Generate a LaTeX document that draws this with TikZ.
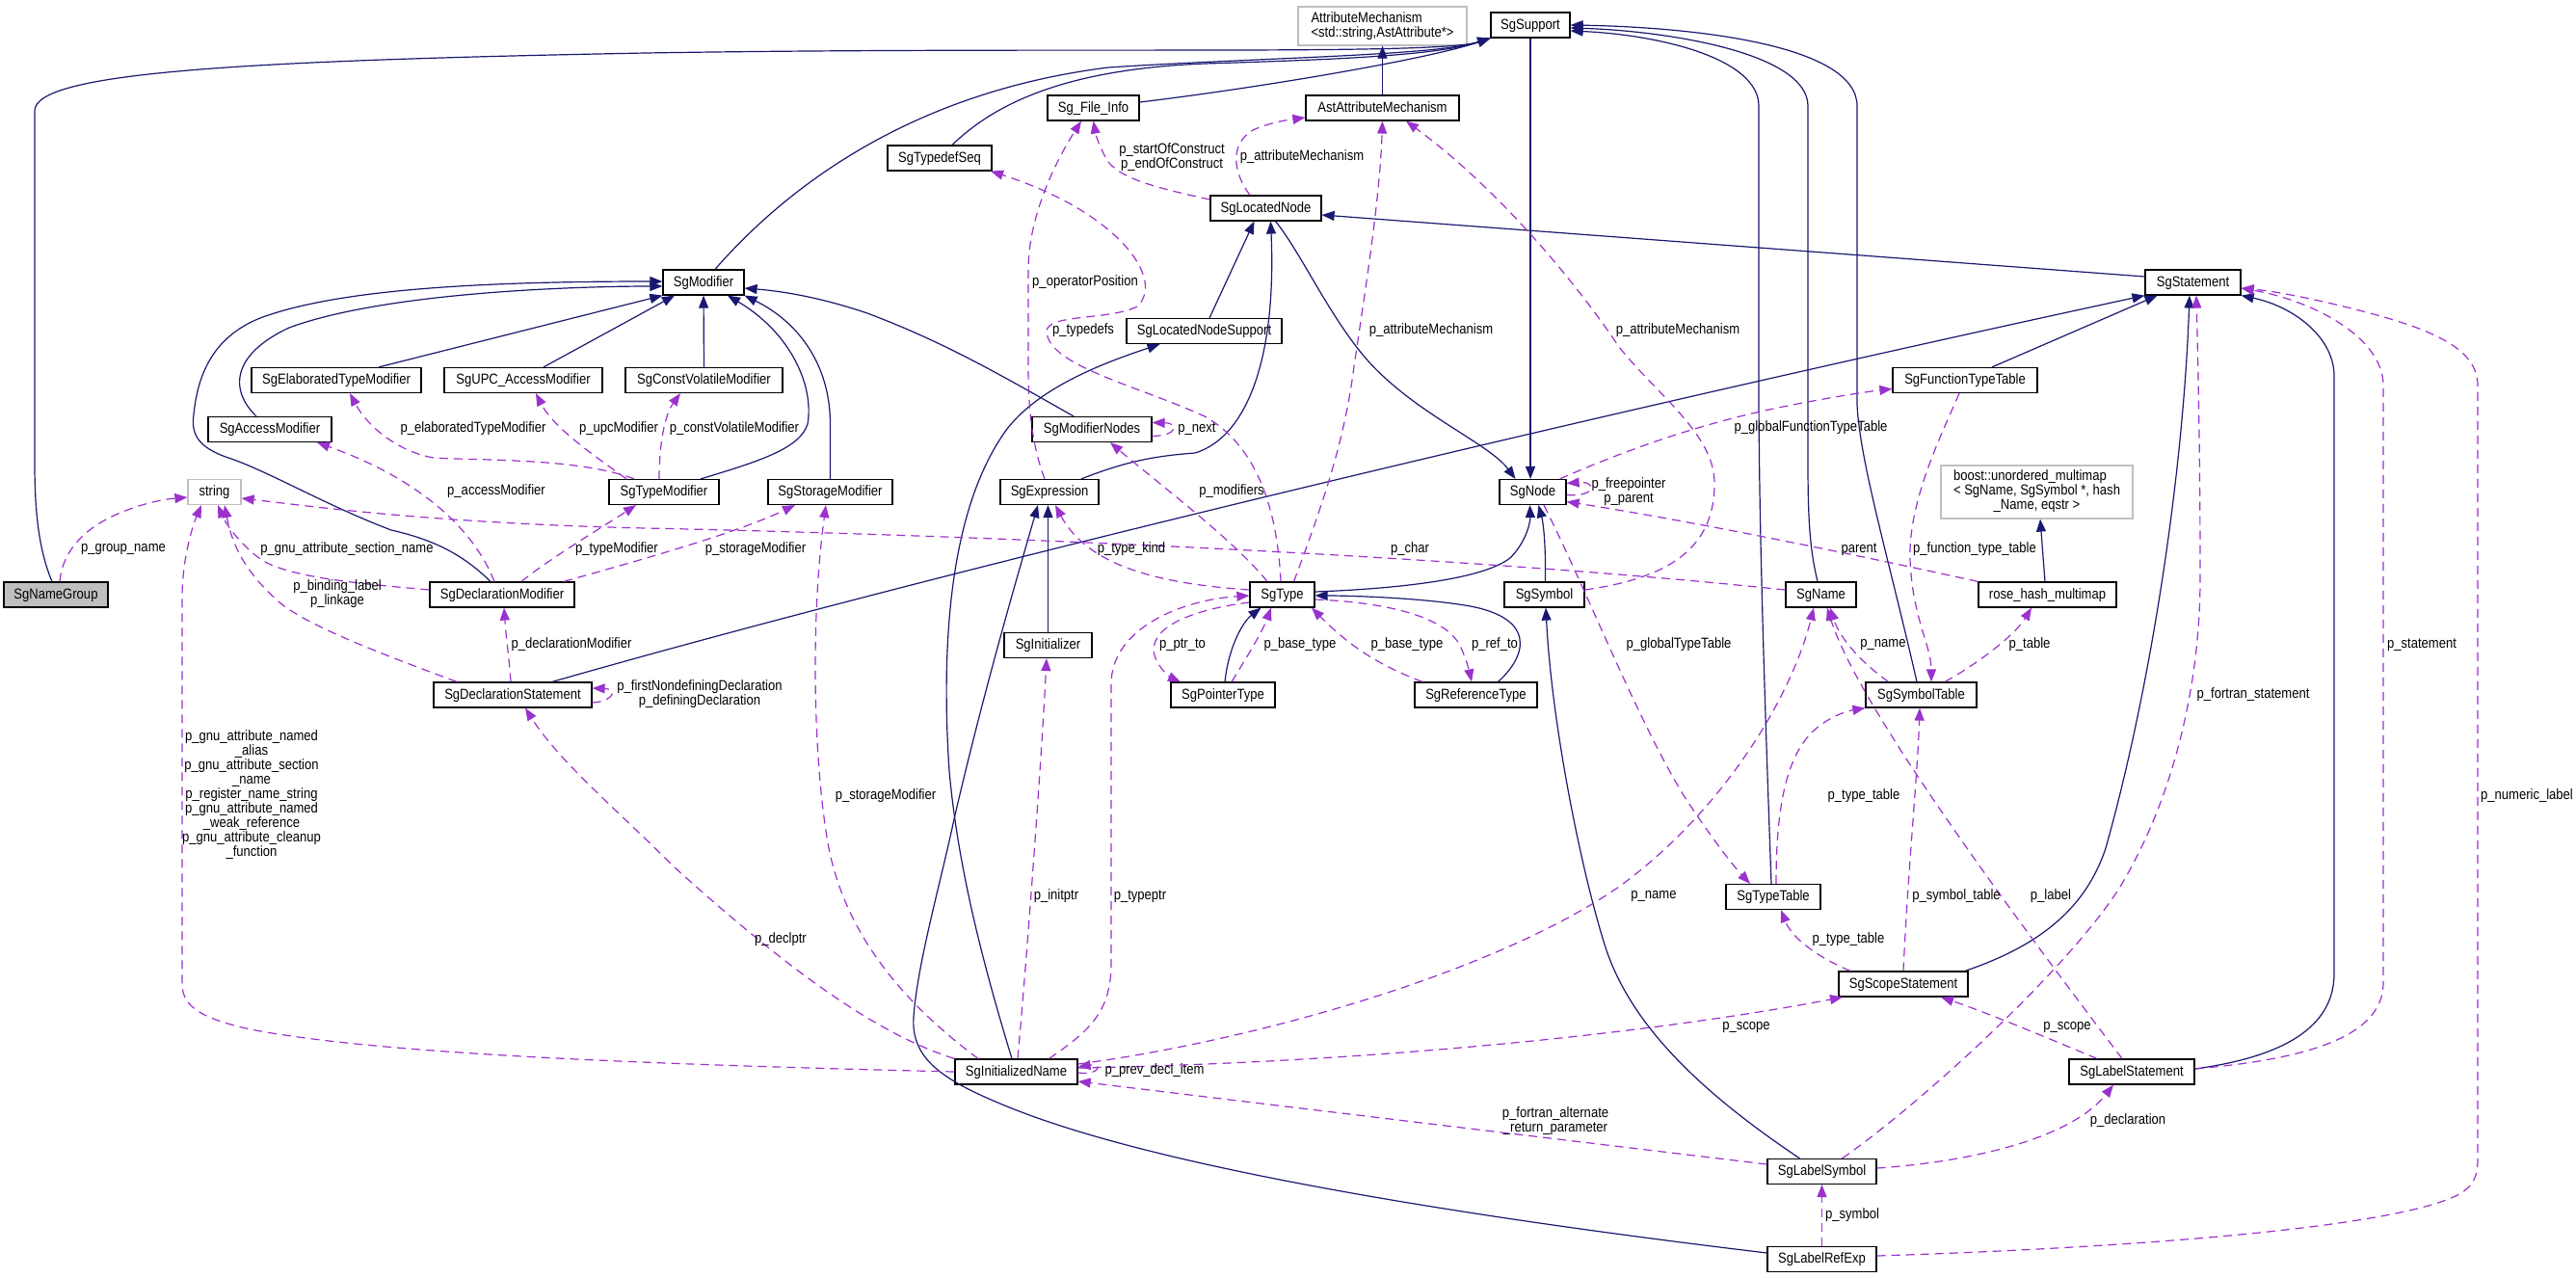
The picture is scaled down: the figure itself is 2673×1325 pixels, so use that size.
\documentclass[tikz,border=0pt]{standalone}
\usepackage{fontspec}
\setmainfont{Liberation Sans}[FakeStretch=0.87]
\usetikzlibrary{arrows.meta}
\definecolor{inhcol}{HTML}{191970}
\definecolor{refcol}{HTML}{9A32CD}
\definecolor{grayb}{HTML}{BFBFBF}
\newcommand\dxfont{\fontsize{15pt}{15pt}\selectfont}
\begin{document}
\begin{tikzpicture}[x=1pt,y=-1pt,
  cls/.style={draw=black,line width=1.2pt,fill=white,minimum height=26pt,inner sep=0pt,font=\dxfont,text height=11pt,text depth=3pt},
  extbox/.style={draw=grayb,line width=1.2pt,fill=white,inner sep=0pt,font=\dxfont},
  inh/.style={draw=inhcol,line width=1.2pt,-{Triangle[length=13pt,width=10pt]}},
  ref/.style={draw=refcol,line width=1.2pt,dash pattern=on 9pt off 6pt,-{Triangle[length=13pt,width=10pt]}},
  lbl/.style={font=\dxfont,inner sep=0pt,align=center}]
\fill[white] (0,0) rectangle (2673,1325);
\useasboundingbox (0,0) rectangle (2673,1325);

% ---------- nodes ----------
\node[extbox,minimum width=175pt,minimum height=40pt,align=left] (AttrMech) at (1434.5,27) {AttributeMechanism\\<std::string,AstAttribute*>};
\node[cls,minimum width=82pt] (SgSupport) at (1588,26) {SgSupport};
\node[cls,minimum width=95pt] (FileInfo) at (1134.5,112) {Sg\_File\_Info};
\node[cls,minimum width=159pt] (AstAttr) at (1434.5,112) {AstAttributeMechanism};
\node[cls,minimum width=108pt] (TypedefSeq) at (975,164) {SgTypedefSeq};
\node[cls,minimum width=115pt] (LocNode) at (1313.5,216) {SgLocatedNode};
\node[cls,minimum width=84pt] (Modifier) at (730,293) {SgModifier};
\node[cls,minimum width=99pt] (Statement) at (2275.5,293) {SgStatement};
\node[cls,minimum width=161pt] (LocNodeSup) at (1249.5,343.5) {SgLocatedNodeSupport};
\node[cls,minimum width=176pt] (ElabMod) at (349,394.5) {SgElaboratedTypeModifier};
\node[cls,minimum width=164pt] (UpcMod) at (543,394.5) {SgUPC\_AccessModifier};
\node[cls,minimum width=163pt] (CVMod) at (730.5,394.5) {SgConstVolatileModifier};
\node[cls,minimum width=150pt] (FuncTT) at (2039,394.5) {SgFunctionTypeTable};
\node[cls,minimum width=128pt] (AccMod) at (280,445.5) {SgAccessModifier};
\node[cls,minimum width=124pt] (ModNodes) at (1133,445.5) {SgModifierNodes};
\node[cls,draw=grayb,minimum width=55pt] (String) at (222.5,510.5) {string};
\node[cls,minimum width=114pt] (TypeMod) at (689,510.5) {SgTypeModifier};
\node[cls,minimum width=129pt] (StorMod) at (861.5,510.5) {SgStorageModifier};
\node[cls,minimum width=102pt] (Expr) at (1089,510.5) {SgExpression};
\node[cls,minimum width=69pt] (Node) at (1590.5,510.5) {SgNode};
\node[extbox,minimum width=199pt,minimum height=55pt] (Boost) at (2113.5,510.5) {\begin{tabular}{@{}l@{}}boost::unordered\_multimap\\< SgName, SgSymbol *, hash\\\multicolumn{1}{@{}c@{}}{\_Name, eqstr >}\end{tabular}};
\node[cls,fill=grayb,minimum width=108pt] (NameGroup) at (58,617) {SgNameGroup};
\node[cls,minimum width=150pt] (DeclMod) at (521,617) {SgDeclarationModifier};
\node[cls,minimum width=67pt] (Type) at (1330.5,617) {SgType};
\node[cls,minimum width=83pt] (Symbol) at (1602.5,617) {SgSymbol};
\node[cls,minimum width=73pt] (Name) at (1889.5,617) {SgName};
\node[cls,minimum width=143pt] (RoseHash) at (2124.5,617) {rose\_hash\_multimap};
\node[cls,minimum width=91pt] (Init) at (1087.5,669.5) {SgInitializer};
\node[cls,minimum width=164pt] (DeclStmt) at (532,721) {SgDeclarationStatement};
\node[cls,minimum width=108pt] (PtrType) at (1269,721) {SgPointerType};
\node[cls,minimum width=127pt] (RefType) at (1531.5,721) {SgReferenceType};
\node[cls,minimum width=115pt] (SymTab) at (1993.5,721) {SgSymbolTable};
\node[cls,minimum width=98pt] (TypeTab) at (1840,930.5) {SgTypeTable};
\node[cls,minimum width=134pt] (ScopeStmt) at (1975,1021) {SgScopeStatement};
\node[cls,minimum width=127pt] (InitName) at (1054.5,1112) {SgInitializedName};
\node[cls,minimum width=130pt] (LabelStmt) at (2212,1112) {SgLabelStatement};
\node[cls,minimum width=113pt] (LabelSym) at (1890.5,1215.5) {SgLabelSymbol};
\node[cls,minimum width=113pt] (LabelRef) at (1890.5,1306.5) {SgLabelRefExp};

% ---------- inheritance edges ----------
\draw[inh] ([xshift=-4pt]NameGroup.north) .. controls (40,570) and (36,530) .. (36,480) -- (36,115) .. controls (36,75) and (250,63) .. (670,55) .. controls (1100,48) and (1490,58) .. (SgSupport.south west);
\draw[inh] ([xshift=12pt]Modifier.north) .. controls (820,190) and (950,95) .. (1150,70) .. controls (1300,60) and (1490,58) .. (SgSupport.south west);
\draw[inh] ([xshift=13pt]TypedefSeq.north) .. controls (1030,110) and (1100,72) .. (1250,66) .. controls (1380,62) and (1490,58) .. (SgSupport.south west);
\draw[inh] ([yshift=6pt]FileInfo.east) .. controls (1300,92) and (1480,62) .. (SgSupport.south west);
\draw[inh] (AstAttr.north) -- (AttrMech.south);
\draw[inh] (SgSupport.south) -- ([xshift=-2.5pt]Node.north);
\draw[inh] ([xshift=-2pt]TypeTab.north) .. controls (1832,750) and (1825,550) .. (1825,400) -- (1825,110) .. controls (1825,60) and (1720,36) .. ([yshift=-6pt]SgSupport.east);
\draw[inh] ([xshift=-3.5pt]Name.north) .. controls (1878,570) and (1876,540) .. (1876,480) -- (1876,110) .. controls (1876,55) and (1730,32) .. ([yshift=-3pt]SgSupport.east);
\draw[inh] ([xshift=-4.5pt]SymTab.north) .. controls (1960,580) and (1930,480) .. (1927,420) -- (1927,110) .. controls (1927,45) and (1750,28) .. (SgSupport.east);
\draw[inh] ([xshift=10pt]LocNode.south) .. controls (1350,262) and (1380,330) .. (1420,375) .. controls (1470,430) and (1545,460) .. ([xshift=-18pt]Node.north);
\draw[inh] ([yshift=6pt]Statement.west) -- ([yshift=-7pt]LocNode.east);
\draw[inh] ([xshift=5.5pt]LocNodeSup.north) -- ([xshift=-12pt]LocNode.south);
\draw[inh] ([xshift=33pt]Expr.north) .. controls (1170,478) and (1200,473) .. (1240,470) .. controls (1290,455) and (1325,380) .. ([xshift=5pt]LocNode.south);
\draw[inh] ([xshift=-4.5pt]InitName.north) .. controls (1020,1000) and (994,900) .. (985,800) .. controls (975,650) and (990,520) .. (1045,445) .. controls (1080,400) and (1150,375) .. ([xshift=-46pt]LocNodeSup.south);
\draw[inh] ([yshift=6.5pt]LabelRef.west) .. controls (1500,1260) and (1200,1210) .. (1050,1150) .. controls (980,1122) and (945,1100) .. (948,1055) .. controls (952,1000) and (975,920) .. (990,850) .. controls (1020,720) and (1055,600) .. ([xshift=-12pt]Expr.south);
\draw[inh] (Init.north) -- ([xshift=-1.5pt]Expr.south);
\draw[inh] ([xshift=-14pt]AccMod.north) .. controls (238,405) and (240,368) .. (300,340) .. controls (400,303) and (600,297) .. ([yshift=-4pt]Modifier.west);
\draw[inh] ([xshift=-12pt]DeclMod.north) .. controls (480,575) and (450,560) .. (406,550) .. controls (340,525) and (280,490) .. (240,476) .. controls (205,465) and (198,450) .. (201,430) .. controls (205,390) and (220,350) .. (270,330) .. controls (350,300) and (500,292) .. ([yshift=1pt]Modifier.west);
\draw[inh] ([xshift=44pt]ElabMod.north) -- (Modifier.south west);
\draw[inh] ([xshift=21pt]UpcMod.north) -- ([xshift=-30pt]Modifier.south);
\draw[inh] (CVMod.north) -- (Modifier.south);
\draw[inh] ([xshift=38pt]TypeMod.north) .. controls (790,478) and (830,465) .. (838,440) .. controls (845,400) and (820,345) .. ([xshift=25pt]Modifier.south);
\draw[inh] (StorMod.north) -- (861.5,440) .. controls (861.5,380) and (830,335) .. (Modifier.south east);
\draw[inh] ([xshift=-19pt]ModNodes.north) .. controls (1040,390) and (980,355) .. (900,325) .. controls (850,308) and (810,302) .. ([yshift=-6pt]Modifier.east);
\draw[inh] ([xshift=41pt]DeclStmt.north) .. controls (1000,585) and (1700,420) .. (Statement.south west);
\draw[inh] ([xshift=28pt]FuncTT.north) -- ([xshift=-37pt]Statement.south);
\draw[inh] ([xshift=64pt]ScopeStmt.north) .. controls (2120,980) and (2165,940) .. (2185,880) .. controls (2230,720) and (2265,500) .. ([xshift=-3.5pt]Statement.south);
\draw[inh] ([yshift=3pt]LabelStmt.east) .. controls (2380,1095) and (2422,1060) .. (2422,1010) -- (2422,390) .. controls (2422,350) and (2380,318) .. (Statement.south east);
\draw[inh] ([xshift=2pt]PtrType.north) .. controls (1275,670) and (1290,645) .. ([xshift=-22pt]Type.south);
\draw[inh] ([xshift=23pt]RefType.north) .. controls (1585,680) and (1595,640) .. (1520,628) .. controls (1470,620) and (1400,618) .. ([yshift=-1pt]Type.east);
\draw[inh] ([yshift=3pt]Type.east) .. controls (1470,610) and (1545,598) .. (1568,578) .. controls (1585,560) and (1588,540) .. ([xshift=-3pt]Node.south);
\draw[inh] ([xshift=1pt]Symbol.north) .. controls (1604,570) and (1602,545) .. ([xshift=6pt]Node.south);
\draw[inh] ([xshift=-23pt]LabelSym.north) .. controls (1760,1130) and (1690,1060) .. (1665,980) .. controls (1640,900) and (1610,750) .. ([xshift=1.5pt]Symbol.south);
\draw[inh] ([xshift=-2.5pt]RoseHash.north) -- ([xshift=3.5pt]Boost.south);

% ---------- member edges ----------
\draw[ref] ([xshift=4pt]NameGroup.north) .. controls (65,570) and (90,545) .. (130,530) .. controls (150,522) and (170,518) .. ([yshift=-5.5pt]String.west);
\draw[ref] ([xshift=-8pt]DeclMod.north) .. controls (490,545) and (430,495) .. ([xshift=49pt]AccMod.south);
\draw[ref] ([yshift=5pt]DeclMod.west) .. controls (380,606) and (300,600) .. (270,580) .. controls (250,565) and (235,545) .. ([xshift=3.5pt]String.south);
\draw[ref] ([xshift=-58pt]DeclStmt.north) .. controls (400,680) and (320,650) .. (290,625) .. controls (250,590) and (240,560) .. ([xshift=10.5pt]String.south);
\draw[ref] (InitName.west) .. controls (700,1105) and (400,1095) .. (260,1068) .. controls (200,1055) and (189,1040) .. (189,1020) -- (189,620) .. controls (189,580) and (200,545) .. ([xshift=-13.5pt]String.south);
\draw[ref] ([xshift=-31pt]TypeMod.north) .. controls (600,475) and (500,478) .. (450,475) .. controls (410,468) and (380,440) .. ([xshift=14pt]ElabMod.south);
\draw[ref] ([xshift=-39pt]TypeMod.north) .. controls (620,475) and (575,445) .. ([xshift=13pt]UpcMod.south);
\draw[ref] ([xshift=-5pt]TypeMod.north) .. controls (684,460) and (690,430) .. ([xshift=-24.5pt]CVMod.south);
\draw[ref] ([xshift=20pt]DeclMod.north) .. controls (570,580) and (620,550) .. ([xshift=-29pt]TypeMod.south);
\draw[ref] ([xshift=64pt]DeclMod.north) .. controls (650,585) and (760,555) .. ([xshift=-36.5pt]StorMod.south);
\draw[ref] ([xshift=-2pt]DeclStmt.north) .. controls (528,680) and (525,660) .. ([xshift=2pt]DeclMod.south);
\draw[ref] ([yshift=-8pt]DeclStmt.east) .. controls (636,728) and (642,715) .. ([yshift=7pt]DeclStmt.east);
\draw[ref] (InitName.north west) .. controls (900,1070) and (800,990) .. (700,900) .. controls (640,840) and (580,790) .. ([xshift=13pt]DeclStmt.south);
\draw[ref] ([xshift=-39.5pt]InitName.north) .. controls (950,1050) and (880,980) .. (860,880) .. controls (845,800) and (840,650) .. ([xshift=-4.5pt]StorMod.south);
\draw[ref] ([xshift=1.5pt]InitName.north) .. controls (1065,1000) and (1080,800) .. ([xshift=-1.5pt]Init.south);
\draw[ref] ([xshift=34pt]InitName.north) .. controls (1130,1070) and (1153,1050) .. (1153,1000) -- (1153,710) .. controls (1153,650) and (1230,622) .. ([yshift=-1pt]Type.west);
\draw[ref] ([yshift=-1pt]InitName.east) .. controls (1142,1116) and (1144,1103) .. ([yshift=5pt]InitName.east);
\draw[ref] ([yshift=8pt]InitName.east) .. controls (1300,1080) and (1550,1010) .. (1680,920) .. controls (1790,840) and (1860,720) .. ([xshift=-7.5pt]Name.south);
\draw[ref] ([yshift=4pt]InitName.east) .. controls (1400,1103) and (1700,1075) .. ([xshift=-63pt]ScopeStmt.south);
\draw[ref] ([yshift=7.5pt]LabelSym.west) .. controls (1600,1180) and (1350,1150) .. ([yshift=-10pt]InitName.east);
\draw[ref] ([yshift=3.5pt]LabelSym.east) .. controls (2050,1205) and (2150,1180) .. ([xshift=-19pt]LabelStmt.south);
\draw[ref] ([xshift=21pt]LabelSym.north) .. controls (2000,1140) and (2150,1000) .. (2200,920) .. controls (2260,820) and (2283,700) .. (2283,600) .. controls (2283,450) and (2280,350) .. ([xshift=3.5pt]Statement.south);
\draw[ref] (LabelRef.north) -- (LabelSym.south);
\draw[ref] ([yshift=3.5pt]LabelRef.east) .. controls (2200,1295) and (2480,1275) .. (2550,1240) .. controls (2568,1230) and (2571,1220) .. (2571,1200) -- (2571,400) .. controls (2571,360) and (2520,340) .. (2440,320) .. controls (2400,310) and (2360,302) .. ([yshift=-6pt]Statement.east);
\draw[ref] ([yshift=3pt]LabelStmt.east) .. controls (2380,1100) and (2473,1080) .. (2473,1020) -- (2473,400) .. controls (2473,350) and (2400,312) .. ([yshift=-6pt]Statement.east);
\draw[ref] ([xshift=-10pt]LabelStmt.north) .. controls (2120,990) and (1930,740) .. ([xshift=6.5pt]Name.south);
\draw[ref] ([xshift=-36pt]LabelStmt.north) .. controls (2120,1075) and (2060,1050) .. ([xshift=39pt]ScopeStmt.south);
\draw[ref] ([xshift=-55pt]ScopeStmt.north) .. controls (1890,995) and (1860,975) .. ([xshift=8pt]TypeTab.south);
\draw[ref] (ScopeStmt.north) .. controls (1980,900) and (1990,800) .. ([xshift=-1.5pt]SymTab.south);
\draw[ref] ([xshift=3pt]TypeTab.north) .. controls (1843,850) and (1850,790) .. (1880,760) .. controls (1895,745) and (1915,738) .. (SymTab.south west);
\draw[ref] ([xshift=-34pt]SymTab.north) .. controls (1935,690) and (1910,665) .. ([xshift=9.5pt]Name.south);
\draw[ref] ([xshift=24.5pt]SymTab.north) .. controls (2050,690) and (2090,660) .. ([xshift=-16.5pt]RoseHash.south);
\draw[ref] ([xshift=-6pt]FuncTT.south) .. controls (2015,450) and (1980,520) .. (1982,580) .. controls (1984,640) and (2004,670) .. ([xshift=10.5pt]SymTab.north);
\draw[ref] ([xshift=28pt]Node.north) .. controls (1680,470) and (1760,440) .. (1850,422) .. controls (1900,412) and (1940,406) .. ([yshift=-9pt]FuncTT.west);
\draw[ref] ([yshift=-3pt]Node.east) .. controls (1657,516) and (1657,499) .. ([yshift=9pt]Node.east);
\draw[ref] (RoseHash.north west) .. controls (1900,570) and (1750,540) .. ([yshift=-10pt]Node.east);
\draw[ref] ([xshift=11.5pt]Node.south) .. controls (1650,620) and (1700,750) .. (1750,830) .. controls (1780,875) and (1800,900) .. ([xshift=-24pt]TypeTab.north);
\draw[ref] ([yshift=5pt]Symbol.east) .. controls (1730,600) and (1780,570) .. (1779,500) .. controls (1778,450) and (1720,410) .. (1680,360) .. controls (1640,300) and (1560,200) .. ([xshift=24.5pt]AstAttr.south);
\draw[ref] ([xshift=-16.5pt]LocNode.north) .. controls (1280,180) and (1275,150) .. (1300,135) .. controls (1320,126) and (1340,124) .. ([yshift=-10pt]AstAttr.west);
\draw[ref] ([xshift=12pt]Type.north) .. controls (1370,530) and (1395,460) .. (1405,380) .. controls (1420,280) and (1432,200) .. (AstAttr.south);
\draw[ref] ([xshift=-1.5pt]Type.north) .. controls (1325,520) and (1300,460) .. (1250,432) .. controls (1180,400) and (1090,380) .. (1086,345) .. controls (1084,325) and (1150,333) .. (1180,318) .. controls (1210,290) and (1160,220) .. ([xshift=53pt]TypedefSeq.south);
\draw[ref] ([xshift=-5pt]Expr.north) .. controls (1070,460) and (1067,420) .. (1067,380) -- (1067,280) .. controls (1067,220) and (1100,160) .. ([xshift=-12.5pt]FileInfo.south);
\draw[ref] ([yshift=9pt]LocNode.west) .. controls (1200,195) and (1160,185) .. (1148,165) .. controls (1140,150) and (1137,140) .. (FileInfo.south);
\draw[ref] ([xshift=-15.5pt]Type.north) .. controls (1280,560) and (1200,500) .. ([xshift=19pt]ModNodes.south);
\draw[ref] ([yshift=-7pt]ModNodes.east) .. controls (1222,452) and (1224,439) .. ([yshift=7pt]ModNodes.east);
\draw[ref] ([yshift=5pt]Type.west) .. controls (1210,606) and (1130,590) .. ([xshift=6pt]Expr.south);
\draw[ref] ([yshift=-8pt]Type.west) .. controls (1240,632) and (1190,650) .. (1198,680) .. controls (1203,695) and (1215,703) .. ([xshift=-44pt]PtrType.north);
\draw[ref] ([xshift=9pt]PtrType.north) .. controls (1295,680) and (1310,655) .. ([xshift=-11.5pt]Type.south);
\draw[ref] ([xshift=-55.5pt]RefType.north) .. controls (1430,690) and (1400,670) .. ([xshift=30.5pt]Type.south);
\draw[ref] ([yshift=-5pt]Type.east) .. controls (1440,625) and (1500,640) .. (1515,670) .. controls (1522,685) and (1525,698) .. ([xshift=-4.5pt]RefType.north);
\draw[ref] ([yshift=5pt]Name.west) .. controls (1500,575) and (1000,555) .. (670,548) .. controls (450,543) and (320,525) .. ([yshift=-6.5pt]String.east);

% ---------- labels ----------
\node[lbl] (l01) at (128,570) {p\_group\_name};
\node[lbl] (l02) at (515,510) {p\_accessModifier};
\node[lbl] (l03) at (360,570) {p\_gnu\_attribute\_section\_name};
\node[lbl] (l04) at (350,616) {p\_binding\_label\\p\_linkage};
\node[lbl] (l05) at (261,825) {p\_gnu\_attribute\_named\\\_alias\\p\_gnu\_attribute\_section\\\_name\\p\_register\_name\_string\\p\_gnu\_attribute\_named\\\_weak\_reference\\p\_gnu\_attribute\_cleanup\\\_function};
\node[lbl] (l06) at (491,445) {p\_elaboratedTypeModifier};
\node[lbl] (l07) at (642,445) {p\_upcModifier};
\node[lbl] (l08) at (762,445) {p\_constVolatileModifier};
\node[lbl] (l09) at (640,570) {p\_typeModifier};
\node[lbl] (l10) at (784,570) {p\_storageModifier};
\node[lbl] (l11) at (593,669) {p\_declarationModifier};
\node[lbl] (l12) at (726,720) {p\_firstNondefiningDeclaration\\p\_definingDeclaration};
\node[lbl] (l13) at (810,975) {p\_declptr};
\node[lbl] (l14) at (919,826) {p\_storageModifier};
\node[lbl] (l15) at (1096,930) {p\_initptr};
\node[lbl] (l16) at (1183,930) {p\_typeptr};
\node[lbl] (l17) at (1198,1111) {p\_prev\_decl\_item};
\node[lbl] (l18) at (1716,930) {p\_name};
\node[lbl] (l19) at (1812,1066) {p\_scope};
\node[lbl] (l20) at (1614,1163) {p\_fortran\_alternate\\\_return\_parameter};
\node[lbl] (l21) at (2208,1163) {p\_declaration};
\node[lbl] (l22) at (2338,721) {p\_fortran\_statement};
\node[lbl] (l23) at (1922,1261) {p\_symbol};
\node[lbl] (l24) at (2622,826) {p\_numeric\_label};
\node[lbl] (l25) at (2513,669) {p\_statement};
\node[lbl] (l26) at (2128,930) {p\_label};
\node[lbl] (l27) at (2145,1066) {p\_scope};
\node[lbl] (l28) at (1918,975) {p\_type\_table};
\node[lbl] (l29) at (2030,930) {p\_symbol\_table};
\node[lbl] (l30) at (1934,826) {p\_type\_table};
\node[lbl] (l31) at (1954,669) {p\_name};
\node[lbl] (l32) at (2106,669) {p\_table};
\node[lbl] (l33) at (2049,570) {p\_function\_type\_table};
\node[lbl] (l34) at (1879,444) {p\_globalFunctionTypeTable};
\node[lbl] (l35) at (1690,510) {p\_freepointer\\p\_parent};
\node[lbl] (l36) at (1929,570) {parent};
\node[lbl] (l37) at (1742,669) {p\_globalTypeTable};
\node[lbl] (l38) at (1741,343) {p\_attributeMechanism};
\node[lbl] (l39) at (1351,163) {p\_attributeMechanism};
\node[lbl] (l40) at (1485,343) {p\_attributeMechanism};
\node[lbl] (l41) at (1124,343) {p\_typedefs};
\node[lbl] (l42) at (1126,293) {p\_operatorPosition};
\node[lbl] (l43) at (1216,163) {p\_startOfConstruct\\p\_endOfConstruct};
\node[lbl] (l44) at (1278,510) {p\_modifiers};
\node[lbl] (l45) at (1242,445) {p\_next};
\node[lbl] (l46) at (1174,570) {p\_type\_kind};
\node[lbl] (l47) at (1227,669) {p\_ptr\_to};
\node[lbl] (l48) at (1349,669) {p\_base\_type};
\node[lbl] (l49) at (1460,669) {p\_base\_type};
\node[lbl] (l50) at (1551,669) {p\_ref\_to};
\node[lbl] (l51) at (1463,570) {p\_char};
\end{tikzpicture}
\end{document}
